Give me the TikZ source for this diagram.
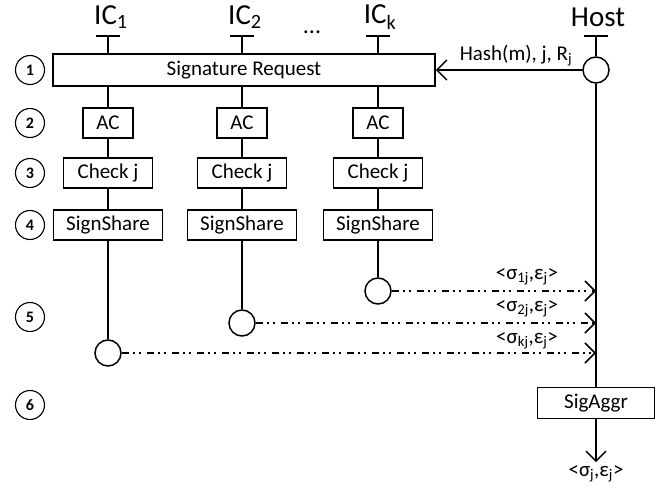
\documentclass[tikz,border=0pt]{standalone}
\usepackage{fontspec}
\setmainfont{Carlito}
\usetikzlibrary{arrows.meta}

\begin{document}
\begin{tikzpicture}[x=1pt, y=-1pt]
\useasboundingbox (0,0) rectangle (672,489);

\tikzset{BoxStyle/.style = {
 draw,
 line width = 1.5pt,
 inner sep = 0pt,
 minimum height = 30pt,
 font = \fontsize{21}{23}\selectfont} }
\tikzset{TagStyle/.style = {
 draw,
 shape = circle,
 line width = 1.1pt,
 inner sep = 0pt,
 minimum size = 29pt,
 font = \fontsize{16}{17}\selectfont\bfseries} }
\tikzset{PortStyle/.style = {
 draw,
 shape = circle,
 line width = 1.5pt,
 inner sep = 0pt,
 minimum size = 26pt} }
\tikzset{PartyStyle/.style = {font = \fontsize{29}{30}\selectfont} }
\tikzset{LabelStyle/.style = {font = \fontsize{21}{23}\selectfont} }
\tikzset{LineStyle/.style = {line width = 1.5pt} }
\tikzset{MsgStyle/.style = {line width = 1.5pt,
 -{Straight Barb[length=10pt, width=20pt, line width=1.5pt]}} }
\tikzset{ShareStyle/.style = {MsgStyle,
 dash pattern = on 7pt off 4pt on 2pt off 4pt on 2pt off 6pt} }

% lifelines
\coordinate (T1) at (108,36);
\coordinate (T2) at (242,36);
\coordinate (Tk) at (378,36);
\coordinate (TH) at (596,36);

\node[PartyStyle] (IC1) at (111,17) {IC\textsubscript{1}};
\node[PartyStyle] (IC2) at (245,17) {IC\textsubscript{2}};
\node[PartyStyle] (ICk) at (380,17) {IC\textsubscript{k}};
\node[PartyStyle] (Host) at (598,17) {Host};
\node[PartyStyle, font=\fontsize{24}{25}\selectfont] (Dots) at (312,32) {...};

\foreach \t in {T1,T2,Tk,TH}
 \draw[LineStyle] ([xshift=-12pt]\t) -- ([xshift=12pt]\t);

% step numbers
\node[TagStyle] (S1) at (30,70) {1};
\node[TagStyle] (S2) at (30,123) {2};
\node[TagStyle] (S3) at (30,173) {3};
\node[TagStyle] (S4) at (30,225) {4};
\node[TagStyle] (S5) at (30,317) {5};
\node[TagStyle] (S6) at (30,405) {6};

% request
\node[BoxStyle, minimum width=382pt, minimum height=32pt] (SR) at (244,70) {Signature Request};
\node[PortStyle] (H1) at (596,70) {};
\draw[MsgStyle] (H1.west) -- (SR.east);
\node[LabelStyle] (Hash) at (516,56) {Hash(m), j, R\textsubscript{j}};

% per-card checks
\node[BoxStyle, minimum width=50pt] (AC1) at (108,123) {AC};
\node[BoxStyle, minimum width=50pt] (AC2) at (242,123) {AC};
\node[BoxStyle, minimum width=50pt] (ACk) at (378,123) {AC};
\node[BoxStyle, minimum width=89pt] (CK1) at (108,173) {Check j};
\node[BoxStyle, minimum width=89pt] (CK2) at (242,173) {Check j};
\node[BoxStyle, minimum width=89pt] (CKk) at (378,173) {Check j};
\node[BoxStyle, minimum width=109pt] (SS1) at (108,225) {SignShare};
\node[BoxStyle, minimum width=109pt] (SS2) at (242,225) {SignShare};
\node[BoxStyle, minimum width=109pt] (SSk) at (378,225) {SignShare};

% shares
\node[PortStyle] (O1) at (108,353) {};
\node[PortStyle] (O2) at (242,323) {};
\node[PortStyle] (Ok) at (378,291) {};

\foreach \i in {1,2,k} {
 \draw[LineStyle] (T\i) -- (T\i |- SR.north);
 \draw[LineStyle] (SR.south -| AC\i) -- (AC\i.north);
 \draw[LineStyle] (AC\i.south) -- (CK\i.north);
 \draw[LineStyle] (CK\i.south) -- (SS\i.north);
 \draw[LineStyle] (SS\i.south) -- (O\i.north);
 \draw[ShareStyle] (O\i.east) -- (O\i -| TH);
}

\node[LabelStyle] (L1) at (527,277) {<σ\textsubscript{1j},ε\textsubscript{j}>};
\node[LabelStyle] (L2) at (527,309) {<σ\textsubscript{2j},ε\textsubscript{j}>};
\node[LabelStyle] (Lk) at (527,341) {<σ\textsubscript{kj},ε\textsubscript{j}>};

% aggregation
\node[BoxStyle, minimum width=117pt, minimum height=31pt] (SA) at (596,403) {SigAggr};
\node[LabelStyle] (Out) at (596,474) {<σ\textsubscript{j},ε\textsubscript{j}>};

\draw[LineStyle] (TH) -- (H1.north);
\draw[LineStyle] (H1.south) -- (SA.north);
\draw[MsgStyle] (SA.south) -- (Out.north);

\end{tikzpicture}
\end{document}
